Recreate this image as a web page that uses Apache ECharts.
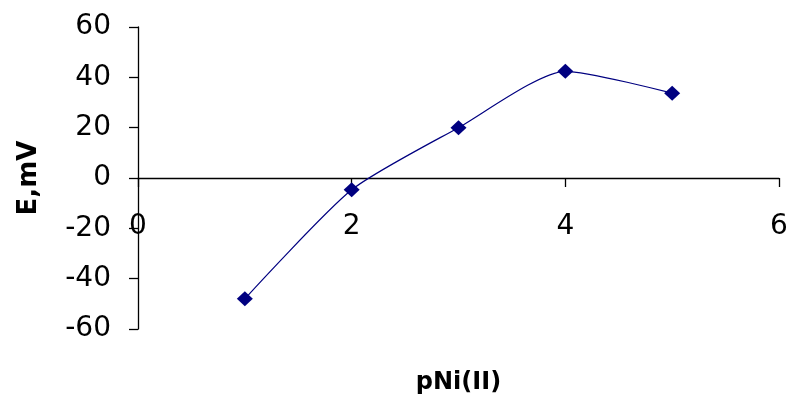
<!DOCTYPE html>
<html>
<head>
<meta charset="utf-8">
<script src="https://cdn.jsdelivr.net/npm/echarts@6/dist/echarts.min.js"></script>
<style>
  html, body { margin: 0; padding: 0; background: #fff; }
  #main { width: 790px; height: 400px; }
</style>
</head>
<body>
<div id="main"></div>
<script>
// values
var pNi = [1, 2, 3, 4, 5]
var potential = [-48, -4.7, 20, 42.4, 33.7]
var xTicks = [0, 2, 4, 6]
var yTicks = [-60, -40, -20, 0, 20, 40, 60]

var chart = echarts.init(document.getElementById('main'))

var points = pNi.map(function (x, i) { return [x, potential[i]] })

// x axis sits on E = 0, which is the middle of the plot height
var plotTop = 27, plotBottom = 71
var plotH = 400 - plotTop - plotBottom
var zeroOffset = -plotH * (0 - yTicks[0]) / (yTicks[yTicks.length - 1] - yTicks[0])

var option = {
  backgroundColor: '#fff',
  animation: false,
  grid: { left: 138, right: 11, top: plotTop, bottom: plotBottom, containLabel: false, outerBoundsMode: 'none' },
  xAxis: {
    type: 'value',
    min: xTicks[0],
    max: xTicks[xTicks.length - 1],
    interval: 2,
    offset: zeroOffset,
    name: 'pNi(II)',
    nameLocation: 'middle',
    nameGap: 193,
    nameMoveOverlap: false,
    nameTextStyle: { fontFamily: 'DejaVu Sans', fontWeight: 'bold', fontSize: 24, color: '#000' },
    axisLine: { onZero: false, lineStyle: { color: '#000', width: 1.3 } },
    axisTick: { length: 9, lineStyle: { color: '#000', width: 1.3 } },
    axisLabel: { margin: 35, fontFamily: 'DejaVu Sans', fontSize: 28, color: '#000', hideOverlap: false },
    splitLine: { show: false }
  },
  yAxis: {
    type: 'value',
    min: yTicks[0],
    max: yTicks[yTicks.length - 1],
    interval: 20,
    name: 'E,mV',
    nameLocation: 'middle',
    nameGap: 96,
    nameRotate: 90,
    nameMoveOverlap: false,
    nameTextStyle: { fontFamily: 'DejaVu Sans', fontWeight: 'bold', fontSize: 26, color: '#000' },
    axisLine: { onZero: false, lineStyle: { color: '#000', width: 1.3 } },
    axisTick: { length: 9, lineStyle: { color: '#000', width: 1.3 } },
    axisLabel: { margin: 27, fontFamily: 'DejaVu Sans', fontSize: 28, color: '#000', hideOverlap: false },
    splitLine: { show: false }
  },
  series: [{
    type: 'line',
    data: points,
    smooth: 0.22,
    symbol: 'diamond',
    symbolSize: [16, 15],
    itemStyle: { color: '#000080' },
    lineStyle: { color: '#000080', width: 1.2 }
  }]
}

chart.setOption(option)
</script>
</body>
</html>
